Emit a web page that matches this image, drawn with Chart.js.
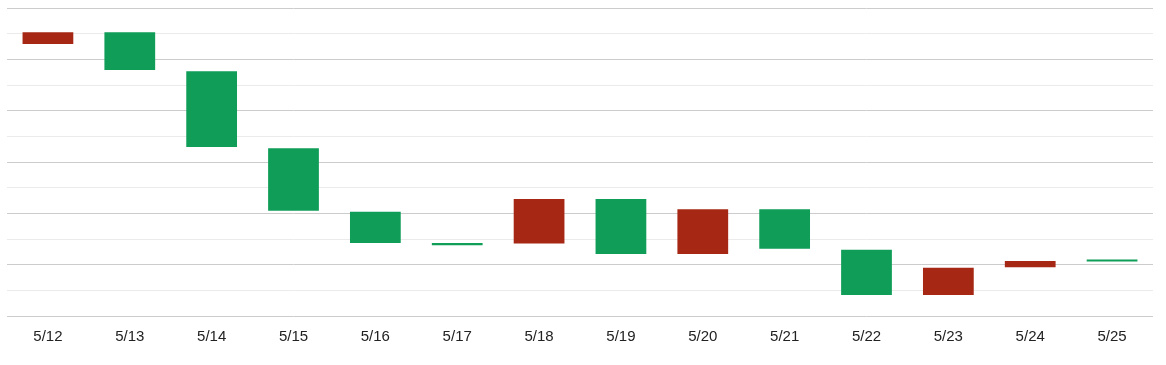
<!DOCTYPE html>
<html>
<head>
<meta charset="utf-8">
<script src="https://cdn.jsdelivr.net/npm/chart.js@4"></script>
<style>
  html, body { margin: 0; padding: 0; background: #fff; }
  #wrap { width: 1166px; height: 365px; position: relative; }
</style>
</head>
<body>
<div id="wrap"><canvas id="chart"></canvas></div>
<script>
const categories = ['5/12', '5/13', '5/14', '5/15', '5/16', '5/17', '5/18', '5/19', '5/20', '5/21', '5/22', '5/23', '5/24', '5/25'];
const barTops = [5.53, 5.53, 4.77, 3.27, 2.03, 1.42, 2.28, 2.28, 2.08, 2.08, 1.29, 0.94, 1.07, 1.10];
const barBottoms = [5.30, 4.79, 3.29, 2.05, 1.42, 1.38, 1.41, 1.21, 1.21, 1.31, 0.41, 0.41, 0.95, 1.06];
const barKinds = ['down', 'up', 'up', 'up', 'up', 'up', 'down', 'up', 'down', 'up', 'up', 'down', 'down', 'up'];

const upColor = '#0f9d58';
const downColor = '#a52714';
const fontFamily = '"Liberation Sans", Arial, sans-serif';

new Chart(document.getElementById('chart'), {
  type: 'bar',
  data: {
    labels: categories,
    datasets: [{
      data: categories.map((_, i) => [barBottoms[i], barTops[i]]),
      backgroundColor: barKinds.map(k => k === 'up' ? upColor : downColor),
      borderWidth: 0,
      barPercentage: 0.62,
      categoryPercentage: 1
    }]
  },
  options: {
    responsive: true,
    maintainAspectRatio: false,
    animation: false,
    layout: { padding: { left: 7, right: 13, top: 8, bottom: 15 } },
    plugins: {
      legend: { display: false },
      tooltip: { enabled: false }
    },
    scales: {
      x: {
        grid: { display: false },
        border: { display: false },
        ticks: { color: '#222', padding: 4, font: { family: fontFamily, size: 15 } }
      },
      y: {
        min: 0,
        max: 6,
        border: { display: false },
        ticks: { display: false, stepSize: 0.5 },
        grid: {
          drawTicks: false,
          color: (ctx) => (ctx.tick && ctx.tick.value % 1 === 0) ? '#cccccc' : '#ebebeb'
        }
      }
    }
  }
});
</script>
</body>
</html>
